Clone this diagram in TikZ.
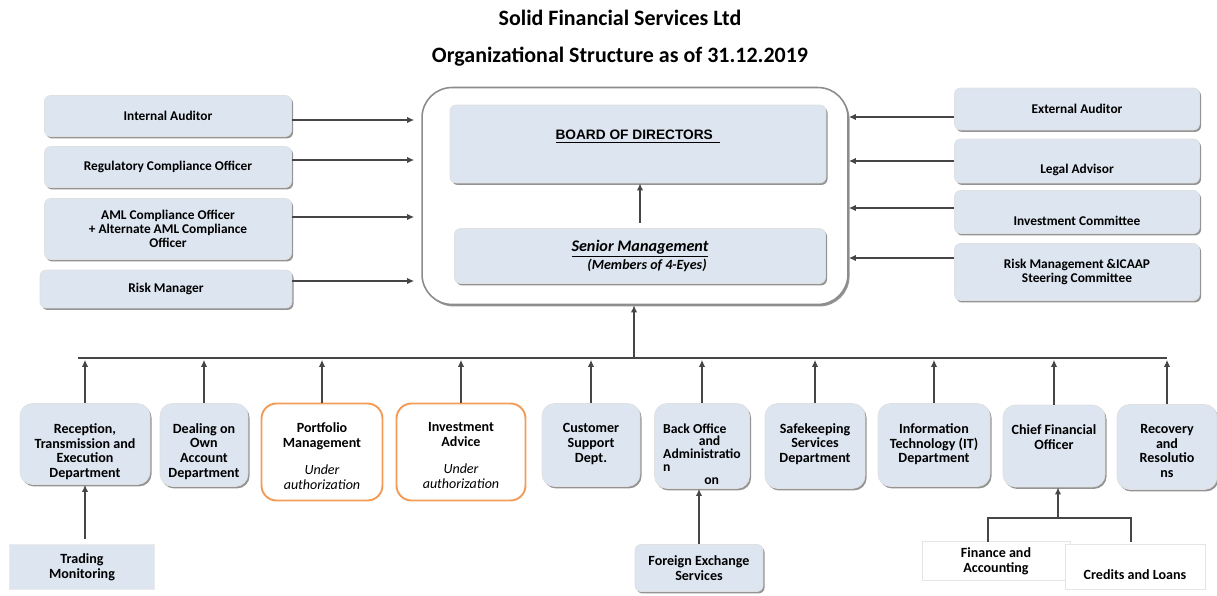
\documentclass[tikz,border=0pt]{standalone}
\usepackage{fontspec}
\setmainfont{Carlito}
\newfontfamily\boardfont{Liberation Sans}
\usetikzlibrary{arrows.meta,shadows}
\definecolor{boxblue}{RGB}{221,229,240}
\definecolor{authorange}{RGB}{243,156,88}
\definecolor{linegray}{RGB}{70,70,70}

\begin{document}
\begin{tikzpicture}[x=0.02cm,y=-0.02cm,
    line/.style={draw=linegray,line width=0.9pt},
    arr/.style={line,-{Latex[length=4pt,width=3.6pt]}},
    txt/.style={align=center,font=\bfseries\fontsize{7.6}{8}\selectfont},
    bigtxt/.style={align=center,font=\bfseries\fontsize{8}{8.4}\selectfont},
    shade/.style={drop shadow={shadow xshift=0.9pt,shadow yshift=-1.1pt,fill=black!60,opacity=0.7}},
    box/.style={txt,fill=boxblue,draw=black!12,rounded corners=0.12cm,shade},
    depttext/.style={bigtxt,anchor=north,yshift=-0.28cm},
    dept/.style={box,rounded corners=0.25cm,minimum height=1.66cm,label={[depttext]north:#1}},
    authdept/.style={draw=authorange,line width=1.1pt,fill=white,rounded corners=0.3cm,minimum height=1.94cm,label={[depttext]north:#1}},
    plainbox/.style={bigtxt,draw=black!10,fill=white}]
  \useasboundingbox (0,0) rectangle (1217,595);

  \node[font=\bfseries\fontsize{12.5}{14}\selectfont] (title) at (620,18) {Solid Financial Services Ltd};
  \node[font=\bfseries\fontsize{12.5}{14}\selectfont] (subtitle) at (620,57) {Organizational Structure as of 31.12.2019};

  \node[draw=black!45,line width=0.9pt,fill=white,rounded corners=0.6cm,minimum width=8.52cm,minimum height=4.34cm,shade] (big) at (635,196) {};
  \node[box,minimum width=7.52cm,minimum height=1.56cm,label={[font=\boardfont\bfseries\fontsize{7.8}{9}\selectfont,yshift=0.14cm]center:\underline{BOARD OF DIRECTORS\ \ }}] (board) at (638,144) {};
  \node[box,minimum width=7.42cm,minimum height=1.1cm] (sm) at (640,256) {{\fontsize{9.2}{10}\selectfont\itshape\underline{Senior Management}}\\{\fontsize{8}{8.6}\selectfont\itshape\hspace*{1em}(Members of 4-Eyes)}};
  \draw[arr] ([yshift=0.1cm]sm.north) -- (sm.north |- board.south);

  \node[box,minimum width=4.94cm,minimum height=0.82cm] (iaud) at (168,116) {Internal Auditor};
  \node[box,minimum width=4.94cm,minimum height=0.82cm] (rco) at (168,167) {Regulatory Compliance Officer};
  \node[box,minimum width=4.94cm,minimum height=1.22cm] (aml) at (168,229) {AML Compliance Officer\\+ Alternate AML Compliance\\Officer};
  \node[box,minimum width=5.04cm,minimum height=0.76cm] (rm) at (166,289) {Risk Manager};
  \draw[arr,shorten >=0.14cm] ([yshift=-0.08cm]iaud.east) -- ([yshift=-0.08cm]iaud.east -| big.west);
  \draw[arr,shorten >=0.14cm] ([yshift=0.14cm]rco.east) -- ([yshift=0.14cm]rco.east -| big.west);
  \draw[arr,shorten >=0.14cm] ([yshift=0.24cm]aml.east) -- ([yshift=0.24cm]aml.east -| big.west);
  \draw[arr,shorten >=0.14cm] ([yshift=0.16cm]rm.east) -- ([yshift=0.16cm]rm.east -| big.west);

  \node[box,minimum width=4.9cm,minimum height=0.84cm] (ext) at (1077,109) {External Auditor};
  \node[box,minimum width=4.9cm,minimum height=0.88cm,label={[txt,yshift=-0.18cm]center:Legal Advisor}] (legal) at (1077,161) {};
  \node[box,minimum width=4.9cm,minimum height=0.86cm,label={[txt,yshift=-0.18cm]center:Investment Committee}] (invc) at (1077,212) {};
  \node[box,minimum width=4.9cm,minimum height=1.14cm] (rmc) at (1077,272) {Risk Management \&ICAAP\\Steering Committee};
  \draw[arr] ([yshift=-0.16cm]ext.west) -- ([yshift=-0.16cm]ext.west -| big.east);
  \draw[arr] (legal.west) -- (legal.west -| big.east);
  \draw[arr] ([yshift=0.08cm]invc.west) -- ([yshift=0.08cm]invc.west -| big.east);
  \draw[arr] ([yshift=0.28cm]rmc.west) -- ([yshift=0.28cm]rmc.west -| big.east);

  \node[dept={Reception,\\Transmission and\\Execution\\Department},minimum width=2.6cm,minimum height=1.62cm] (rte) at (85,444) {};
  \node[dept={Dealing on\\Own\\Account\\Department},minimum width=1.76cm] (doa) at (204,445) {};
  \node[authdept={Portfolio\\Management\\[7pt]{\mdseries\itshape Under}\\{\mdseries\itshape authorization}},minimum width=2.42cm] (pm) at (322,452) {};
  \node[authdept={Investment\\Advice\\[7pt]{\mdseries\itshape Under}\\{\mdseries\itshape authorization}},minimum width=2.58cm] (ia) at (461,452) {};
  \node[dept={Customer\\Support\\Dept.},minimum width=1.96cm] (csd) at (591,445) {};
  \node[box,rounded corners=0.25cm,minimum width=1.9cm,minimum height=1.7cm,
    label={[depttext,align=left,font=\bfseries\fontsize{7.8}{7.3}\selectfont]north:Back Office\\\hspace*{2.6em}and\\Administratio\\n\\\hspace*{3em}on}] (boa) at (702,446) {};
  \node[dept={Safekeeping\\Services\\Department},minimum width=2cm,minimum height=1.7cm] (ssd) at (815,446) {};
  \node[dept={Information\\Technology (IT)\\Department},minimum width=2.24cm] (itd) at (934,445) {};
  \node[dept={Chief Financial\\Officer},minimum width=2.04cm,minimum height=1.64cm] (cfo) at (1054,446) {};
  \node[dept={Recovery\\and\\Resolutio\\ns},minimum width=2cm,minimum height=1.7cm] (rr) at (1167,447) {};

  \coordinate (bus) at (634,358);
  \draw[line] ([xshift=-0.14cm]rte.north |- bus) -- (rr.north |- bus);
  \draw[arr] (bus) -- (bus |- big.south);
  \foreach \d in {rte,doa,pm,ia,csd,boa,ssd,itd,cfo,rr}
    \draw[arr,shorten >=1pt] (\d.north) -- (\d.north |- bus);

  \node[bigtxt,fill=boxblue,draw=black!8,minimum width=2.9cm,minimum height=0.9cm] (tm) at (82,567) {Trading\\Monitoring};
  \draw[arr] ([yshift=0.1cm]rte.south |- tm.north) -- (rte.south);
  \node[box,bigtxt,minimum width=2.56cm,minimum height=0.94cm] (fes) at (699,568) {Foreign Exchange\\Services};
  \draw[arr] (fes.north) -- (fes.north |- boa.south);

  \node[plainbox,minimum width=2.96cm,minimum height=0.66cm] (fa) at (996,561) {Finance and\\Accounting};
  \node[plainbox,minimum width=2.8cm,minimum height=0.9cm,label={[bigtxt,yshift=-0.16cm]center:Credits and Loans}] (cl) at (1135,567) {};
  \coordinate (fork) at (1058,518);
  \coordinate (fal) at (988,542);
  \coordinate (clr) at (1131,542);
  \draw[arr] (fork) -- (fork |- cfo.south);
  \draw[line] (fal) |- (fork) -| (clr);
\end{tikzpicture}
\end{document}
